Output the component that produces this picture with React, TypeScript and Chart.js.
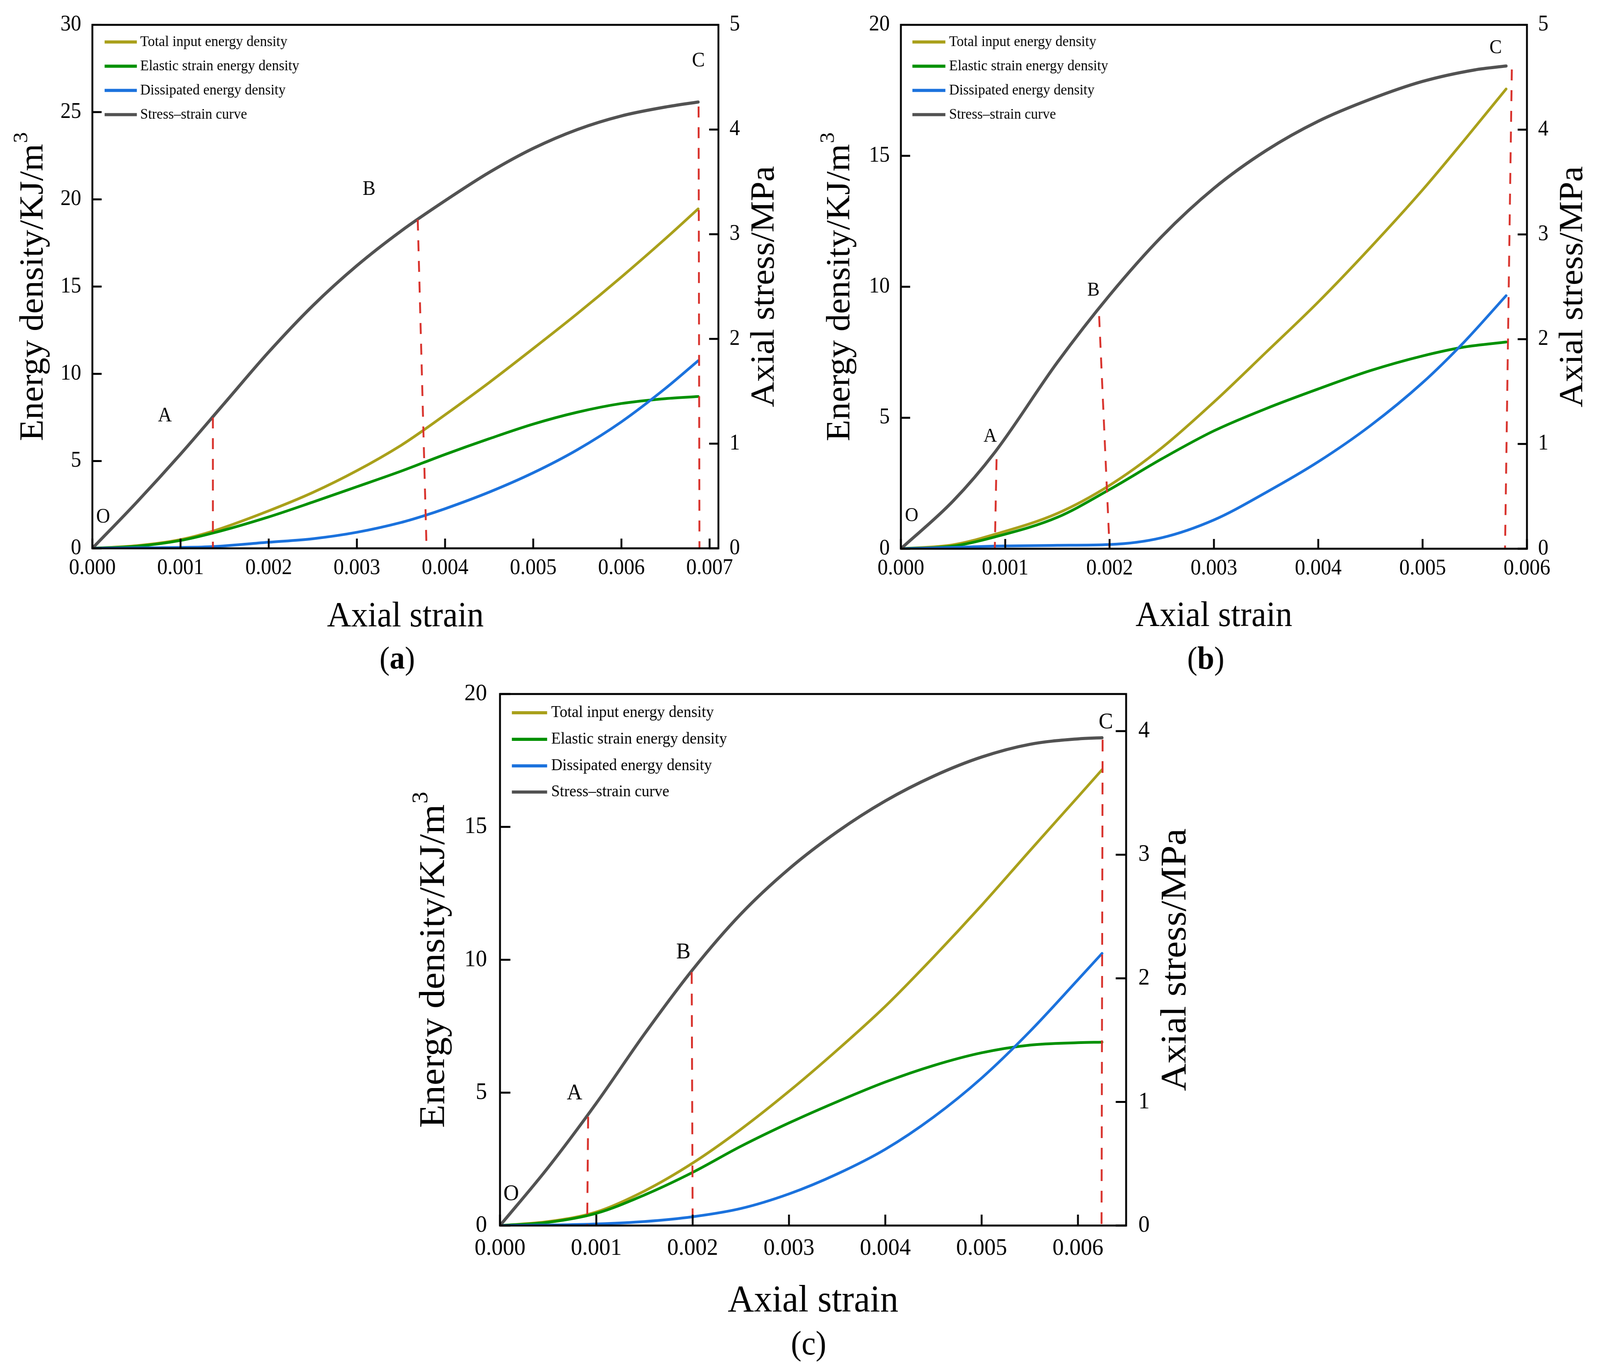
import React, { useEffect, useRef, useState } from "react";
import { Chart, registerables } from "chart.js";

Chart.register(...registerables);

const FONT = '"Liberation Serif", "Times New Roman", serif';
const COLOR_TOTAL = "#A9A01A";
const COLOR_ELASTIC = "#009100";
const COLOR_DISSIPATED = "#1B72DD";
const COLOR_STRESS = "#525252";
const COLOR_DASH = "#D8302A";

const PAGE_W = 4314;
const PAGE_H = 3513;

const SERIES_NAMES = [
  "Total input energy density",
  "Elastic strain energy density",
  "Dissipated energy density",
  "Stress\u2013strain curve",
];
const X_TITLE = "Axial strain";
const Y_TITLE = "Energy density/KJ/m";
const Y_TITLE_SUP = "3";
const Y1_TITLE = "Axial stress/MPa";
const POINT_LABELS = ["O", "A", "B", "C"];

// ---------- Panel (a) ----------
const strainStressA = [0, 0.0005, 0.001, 0.0015, 0.002, 0.0025, 0.003, 0.0035, 0.004, 0.0045, 0.005, 0.0055, 0.006, 0.0065, 0.00687];
const stressA = [0, 0.4375, 0.9, 1.3875, 1.875, 2.3175, 2.7, 3.03, 3.32, 3.59, 3.82, 4.0, 4.13, 4.215, 4.263];
const strainEnergyA = [0, 0.0005, 0.001, 0.00137, 0.002, 0.0025, 0.003, 0.0035, 0.00375, 0.004, 0.0045, 0.005, 0.0055, 0.006, 0.0065, 0.00687];
const totalA = [0, 0.15, 0.5, 0.99, 2.15, 3.2, 4.45, 5.9, 6.75, 7.65, 9.5, 11.45, 13.45, 15.55, 17.75, 19.45];
const elasticA = [0, 0.12, 0.45, 0.88, 1.8, 2.65, 3.53, 4.42, 4.9, 5.38, 6.28, 7.12, 7.8, 8.3, 8.58, 8.7];
const dissipatedA = [0, 0.03, 0.05, 0.1, 0.35, 0.55, 0.92, 1.48, 1.85, 2.27, 3.22, 4.33, 5.65, 7.25, 9.17, 10.75];
const dashXA = [[0.001367, 0.001367], [0.00369, 0.00379], [0.006875, 0.006885]];
const dashYA = [[1.25, 0], [3.14, 0], [4.22, 0]];
const labelXA = [0.000122, 0.000822, 0.003138, 0.006873];
const labelYA = [1.78, 7.59, 20.56, 27.92];

// ---------- Panel (b) ----------
const strainStressB = [0, 0.0005, 0.0009, 0.0015, 0.002, 0.0025, 0.003, 0.0035, 0.004, 0.0045, 0.005, 0.0055, 0.0058];
const stressB = [0, 0.455, 0.92, 1.78, 2.42, 2.98, 3.44, 3.8, 4.08, 4.29, 4.46, 4.57, 4.607];
const strainEnergyB = [0, 0.0005, 0.0009, 0.0015, 0.002, 0.0025, 0.003, 0.0035, 0.004, 0.0045, 0.005, 0.0054, 0.0058];
const totalB = [0, 0.15, 0.55, 1.35, 2.42, 3.85, 5.6, 7.5, 9.42, 11.5, 13.7, 15.6, 17.55];
const elasticB = [0, 0.1, 0.45, 1.2, 2.26, 3.43, 4.5, 5.35, 6.1, 6.8, 7.36, 7.7, 7.89];
const dissipatedB = [0, 0.05, 0.1, 0.13, 0.16, 0.42, 1.1, 2.15, 3.32, 4.7, 6.34, 7.9, 9.66];
const dashXB = [[0.000917, 0.0009], [0.0019, 0.002], [0.005855, 0.00579]];
const dashYB = [[0.855, 0], [2.22, 0], [4.574, 0]];
const labelXB = [0.000103, 0.000856, 0.001845, 0.0057];
const labelYB = [1.25, 4.28, 9.85, 19.12];

// ---------- Panel (c) ----------
const strainStressC = [0, 0.0005, 0.001, 0.0015, 0.002, 0.0025, 0.003, 0.0035, 0.004, 0.0045, 0.005, 0.0055, 0.006, 0.00625];
const stressC = [0, 0.47, 0.99, 1.55, 2.07, 2.52, 2.885, 3.185, 3.435, 3.635, 3.79, 3.893, 3.937, 3.946];
const strainEnergyC = [0, 0.0005, 0.001, 0.0015, 0.002, 0.0025, 0.003, 0.0035, 0.004, 0.0045, 0.005, 0.0055, 0.006, 0.00625];
const totalC = [0, 0.15, 0.51, 1.3, 2.35, 3.62, 5.05, 6.6, 8.25, 10.1, 12.05, 14.1, 16.13, 17.15];
const elasticC = [0, 0.12, 0.46, 1.15, 2.0, 2.98, 3.86, 4.66, 5.4, 6.02, 6.5, 6.79, 6.88, 6.9];
const dissipatedC = [0, 0.02, 0.06, 0.15, 0.33, 0.64, 1.19, 1.94, 2.87, 4.08, 5.55, 7.3, 9.25, 10.24];
const dashXC = [[0.000915, 0.000905], [0.00199, 0.002], [0.006256, 0.006245]];
const dashYC = [[0.88, 0], [2.05, 0], [3.93, 0]];
const labelXC = [0.000116, 0.000774, 0.001904, 0.00629];
const labelYC = [1.18, 4.97, 10.27, 18.93];

type PanelData = {
  caption: string;
  xMax: number;
  yMax: number;
  y1Max: number;
  strainStress: number[];
  stress: number[];
  strainEnergy: number[];
  total: number[];
  elastic: number[];
  dissipated: number[];
  dashX: number[][];
  dashY: number[][];
  labelX: number[];
  labelY: number[];
};

type Layout = {
  left: number; top: number; w: number; h: number;
  padTop: number; leftW: number; rightW: number; xH: number;
  tickFont: number; xPad: number; yPad: number; y1Pad: number;
  titleFont: number; xTitleDy: number; yTitleDx: number; y1TitleDx: number;
  legendFont: number; legX0: number; legX1: number; legTx: number; legRows: number[];
  labelFont: number;
  captionFont: number; captionBold: boolean; captionDx: number; captionDy: number;
  tickLen: number; dash: number[];
};

const PANELS: { data: PanelData; layout: Layout }[] = [
  {
    data: {
      caption: "a", xMax: 0.0071, yMax: 30, y1Max: 5,
      strainStress: strainStressA, stress: stressA,
      strainEnergy: strainEnergyA, total: totalA, elastic: elasticA, dissipated: dissipatedA,
      dashX: dashXA, dashY: dashYA, labelX: labelXA, labelY: labelYA,
    },
    layout: {
      left: 0, top: 0, w: 2157, h: 1756,
      padTop: 43, leftW: 249, rightW: 220, xH: 352,
      tickFont: 56, xPad: 18, yPad: 30, y1Pad: 30,
      titleFont: 90, xTitleDy: 176, yTitleDx: 158, y1TitleDx: 125,
      legendFont: 38, legX0: 33, legX1: 120, legTx: 129, legRows: [44, 106, 168, 230],
      labelFont: 52,
      captionFont: 82, captionBold: true, captionDx: -22, captionDy: 287,
      tickLen: 25, dash: [28, 25],
    },
  },
  {
    data: {
      caption: "b", xMax: 0.006, yMax: 20, y1Max: 5,
      strainStress: strainStressB, stress: stressB,
      strainEnergy: strainEnergyB, total: totalB, elastic: elasticB, dissipated: dissipatedB,
      dashX: dashXB, dashY: dashYB, labelX: labelXB, labelY: labelYB,
    },
    layout: {
      left: 2157, top: 0, w: 2157, h: 1756,
      padTop: 43, leftW: 272, rightW: 197, xH: 351,
      tickFont: 56, xPad: 18, yPad: 30, y1Pad: 30,
      titleFont: 90, xTitleDy: 174, yTitleDx: 163, y1TitleDx: 125,
      legendFont: 38, legX0: 31, legX1: 120, legTx: 130, legRows: [44, 106, 168, 230],
      labelFont: 50,
      captionFont: 82, captionBold: true, captionDx: -22, captionDy: 286,
      tickLen: 25, dash: [28, 25],
    },
  },
  {
    data: {
      caption: "c", xMax: 0.0065, yMax: 20, y1Max: 4.3,
      strainStress: strainStressC, stress: stressC,
      strainEnergy: strainEnergyC, total: totalC, elastic: elasticC, dissipated: dissipatedC,
      dashX: dashXC, dashY: dashYC, labelX: labelXC, labelY: labelYC,
    },
    layout: {
      left: 1050, top: 1700, w: 2300, h: 1813,
      padTop: 77, leftW: 298, rightW: 314, xH: 375,
      tickFont: 61, xPad: 22, yPad: 35, y1Pad: 33,
      titleFont: 98, xTitleDy: 194, yTitleDx: 177, y1TitleDx: 134,
      legendFont: 42, legX0: 32, legX1: 127, legTx: 138, legRows: [48, 116, 184, 251],
      labelFont: 58,
      captionFont: 86, captionBold: false, captionDx: -12, captionDy: 307,
      tickLen: 28, dash: [30, 25],
    },
  },
];

function drawRotated(ctx: CanvasRenderingContext2D, text: string, cx: number, cy: number, size: number, sup?: string) {
  ctx.save();
  ctx.translate(cx, cy);
  ctx.rotate(-Math.PI / 2);
  ctx.textAlign = "left";
  ctx.textBaseline = "middle";
  ctx.font = `${size}px ${FONT}`;
  const w1 = ctx.measureText(text).width;
  const supSize = size * 0.62;
  let w2 = 0;
  if (sup) {
    ctx.font = `${supSize}px ${FONT}`;
    w2 = ctx.measureText(sup).width + 2;
  }
  const start = -(w1 + w2) / 2;
  ctx.font = `${size}px ${FONT}`;
  ctx.fillText(text, start, 0);
  if (sup) {
    ctx.font = `${supSize}px ${FONT}`;
    ctx.fillText(sup, start + w1 + 2, -size * 0.36);
  }
  ctx.restore();
}

function makeDecor(d: PanelData, L: Layout) {
  return {
    id: "decor",
    afterDraw(chart: any) {
      const { ctx, chartArea: ca, scales } = chart;
      const sx = scales.x;
      const sy = scales.y;
      const sy1 = scales.y1;
      ctx.save();
      ctx.strokeStyle = "#000";
      ctx.lineWidth = 5;
      ctx.lineCap = "butt";
      ctx.strokeRect(ca.left, ca.top, ca.right - ca.left, ca.bottom - ca.top);
      ctx.beginPath();
      sx.ticks.forEach((t: any) => {
        const p = sx.getPixelForValue(t.value);
        ctx.moveTo(p, ca.bottom);
        ctx.lineTo(p, ca.bottom - L.tickLen);
      });
      sy.ticks.forEach((t: any) => {
        const p = sy.getPixelForValue(t.value);
        ctx.moveTo(ca.left, p);
        ctx.lineTo(ca.left + L.tickLen, p);
      });
      sy1.ticks.forEach((t: any) => {
        const p = sy1.getPixelForValue(t.value);
        ctx.moveTo(ca.right, p);
        ctx.lineTo(ca.right - L.tickLen, p);
      });
      ctx.stroke();

      ctx.fillStyle = "#000";
      ctx.font = `${L.labelFont}px ${FONT}`;
      ctx.textAlign = "center";
      ctx.textBaseline = "middle";
      POINT_LABELS.forEach((t, i) => {
        ctx.fillText(t, sx.getPixelForValue(d.labelX[i]), sy.getPixelForValue(d.labelY[i]));
      });

      const colors = [COLOR_TOTAL, COLOR_ELASTIC, COLOR_DISSIPATED, COLOR_STRESS];
      ctx.font = `${L.legendFont}px ${FONT}`;
      ctx.textAlign = "left";
      SERIES_NAMES.forEach((name, i) => {
        const y = ca.top + L.legRows[i];
        ctx.strokeStyle = colors[i];
        ctx.lineWidth = 8;
        ctx.beginPath();
        ctx.moveTo(ca.left + L.legX0, y);
        ctx.lineTo(ca.left + L.legX1, y);
        ctx.stroke();
        ctx.fillStyle = "#000";
        ctx.fillText(name, ca.left + L.legTx, y);
      });

      const cxMid = (ca.left + ca.right) / 2;
      const cyMid = (ca.top + ca.bottom) / 2;
      ctx.fillStyle = "#000";
      ctx.font = `${L.titleFont}px ${FONT}`;
      ctx.textAlign = "center";
      ctx.textBaseline = "middle";
      ctx.fillText(X_TITLE, cxMid, ca.bottom + L.xTitleDy);
      drawRotated(ctx, Y_TITLE, ca.left - L.yTitleDx, cyMid, L.titleFont, Y_TITLE_SUP);
      drawRotated(ctx, Y1_TITLE, ca.right + L.y1TitleDx, cyMid, L.titleFont);

      const parts = ["(", d.caption, ")"];
      const fonts = [
        `${L.captionFont}px ${FONT}`,
        `${L.captionBold ? "bold " : ""}${L.captionFont}px ${FONT}`,
        `${L.captionFont}px ${FONT}`,
      ];
      let total = 0;
      const widths = parts.map((p, i) => {
        ctx.font = fonts[i];
        const w = ctx.measureText(p).width;
        total += w;
        return w;
      });
      let x = cxMid + L.captionDx - total / 2;
      ctx.textAlign = "left";
      parts.forEach((p, i) => {
        ctx.font = fonts[i];
        ctx.fillText(p, x, ca.bottom + L.captionDy);
        x += widths[i];
      });
      ctx.restore();
    },
  };
}

function buildConfig(d: PanelData, L: Layout): any {
  const curve = (xs: number[], ys: number[], label: string, color: string, width: number, axis: string, order: number) => ({
    label,
    data: xs.map((x, i) => ({ x, y: ys[i] })),
    borderColor: color,
    backgroundColor: color,
    borderWidth: width,
    pointRadius: 0,
    pointHoverRadius: 0,
    cubicInterpolationMode: "monotone",
    yAxisID: axis,
    order,
    fill: false,
    borderCapStyle: "round",
    borderJoinStyle: "round",
  });
  const datasets: any[] = [
    curve(d.strainEnergy, d.total, SERIES_NAMES[0], COLOR_TOTAL, 7, "y", 4),
    curve(d.strainEnergy, d.elastic, SERIES_NAMES[1], COLOR_ELASTIC, 7, "y", 3),
    curve(d.strainEnergy, d.dissipated, SERIES_NAMES[2], COLOR_DISSIPATED, 7, "y", 2),
    curve(d.strainStress, d.stress, SERIES_NAMES[3], COLOR_STRESS, 8, "y1", 1),
  ];
  d.dashX.forEach((xs, i) => {
    datasets.push({
      label: "dash" + i,
      data: xs.map((x, j) => ({ x, y: d.dashY[i][j] })),
      borderColor: COLOR_DASH,
      borderWidth: 5,
      borderDash: L.dash,
      pointRadius: 0,
      pointHoverRadius: 0,
      tension: 0,
      yAxisID: "y1",
      order: 0,
      fill: false,
    });
  });
  const tickFont = { family: FONT, size: L.tickFont };
  return {
    type: "line",
    data: { datasets },
    plugins: [makeDecor(d, L)],
    options: {
      animation: false,
      responsive: false,
      maintainAspectRatio: false,
      devicePixelRatio: 1,
      events: [],
      layout: { padding: { top: L.padTop, left: 0, right: 0, bottom: 0 } },
      plugins: { legend: { display: false }, tooltip: { enabled: false }, title: { display: false } },
      scales: {
        x: {
          type: "linear",
          position: "bottom",
          min: 0,
          max: d.xMax,
          ticks: {
            stepSize: 0.001,
            includeBounds: false,
            autoSkip: false,
            maxRotation: 0,
            minRotation: 0,
            padding: L.xPad,
            color: "#000",
            font: tickFont,
            callback: (v: any) => Number(v).toFixed(3),
          },
          grid: { display: false, drawTicks: false },
          border: { display: false },
          afterFit: (s: any) => { s.height = L.xH; },
        },
        y: {
          type: "linear",
          position: "left",
          min: 0,
          max: d.yMax,
          ticks: {
            stepSize: 5,
            includeBounds: false,
            padding: L.yPad,
            color: "#000",
            font: tickFont,
            callback: (v: any) => String(v),
          },
          grid: { display: false, drawTicks: false },
          border: { display: false },
          afterFit: (s: any) => { s.width = L.leftW; },
        },
        y1: {
          type: "linear",
          position: "right",
          min: 0,
          max: d.y1Max,
          ticks: {
            stepSize: 1,
            includeBounds: false,
            padding: L.y1Pad,
            color: "#000",
            font: tickFont,
            callback: (v: any) => String(v),
          },
          grid: { display: false, drawTicks: false },
          border: { display: false },
          afterFit: (s: any) => { s.width = L.rightW; },
        },
      },
    },
  };
}

type Fit = { sx: number; sy: number };

function Panel({ data, layout, fit }: { data: PanelData; layout: Layout; fit: Fit }) {
  const ref = useRef<HTMLCanvasElement>(null);
  useEffect(() => {
    const chart = new Chart(ref.current as HTMLCanvasElement, buildConfig(data, layout));
    return () => chart.destroy();
  }, [data, layout]);
  return (
    <canvas
      ref={ref}
      width={layout.w}
      height={layout.h}
      style={{
        position: "absolute",
        left: layout.left * fit.sx,
        top: layout.top * fit.sy,
        width: layout.w * fit.sx,
        height: layout.h * fit.sy,
      }}
    />
  );
}

function viewportFit(): Fit {
  if (typeof window === "undefined") return { sx: 1, sy: 1 };
  const w = window.innerWidth || PAGE_W;
  const h = window.innerHeight || PAGE_H;
  return { sx: w / PAGE_W, sy: h / PAGE_H };
}

export default function App() {
  const [fit, setFit] = useState<Fit>(viewportFit());
  useEffect(() => {
    document.body.style.margin = "0";
    document.body.style.overflow = "hidden";
    document.documentElement.style.overflow = "hidden";
    setFit(viewportFit());
  }, []);
  return (
    <div
      style={{
        position: "relative",
        width: PAGE_W * fit.sx,
        height: PAGE_H * fit.sy,
        background: "#fff",
        overflow: "hidden",
      }}
    >
      {PANELS.map((p, i) => (
        <Panel key={i} data={p.data} layout={p.layout} fit={fit} />
      ))}
    </div>
  );
}
